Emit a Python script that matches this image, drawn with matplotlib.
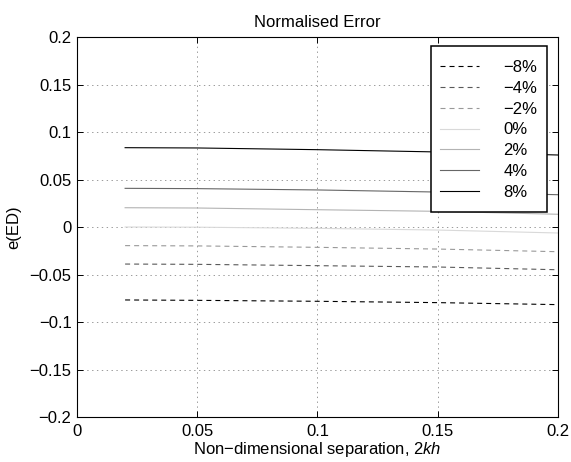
import numpy as np
import matplotlib
matplotlib.use("Agg")
import matplotlib.pyplot as plt
from matplotlib.patches import Rectangle

plt.rcParams["font.family"] = ["Liberation Sans", "DejaVu Sans"]
plt.rcParams["mathtext.fontset"] = "custom"
plt.rcParams["mathtext.it"] = "Liberation Sans:italic"
plt.rcParams["mathtext.rm"] = "Liberation Sans"
plt.rcParams["lines.scale_dashes"] = False

# separation values (2kh) and normalised error per perturbation level
separation = [0.02, 0.05, 0.1, 0.15, 0.2]
labels = ["\u22128%", "\u22124%", "\u22122%", "0%", "2%", "4%", "8%"]
err_m8 = [-0.0768, -0.0772, -0.0782, -0.0796, -0.0817]
err_m4 = [-0.0390, -0.0393, -0.0407, -0.0421, -0.0450]
err_m2 = [-0.0196, -0.0199, -0.0214, -0.0232, -0.0260]
err_0 = [0.0000, -0.0002, -0.0014, -0.0032, -0.0063]
err_2 = [0.0203, 0.0200, 0.0182, 0.0165, 0.0134]
err_4 = [0.0407, 0.0404, 0.0390, 0.0368, 0.0340]
err_8 = [0.0835, 0.0832, 0.0814, 0.0790, 0.0758]

series = [err_m8, err_m4, err_m2, err_0, err_2, err_4, err_8]
colors = ["0.0", "0.35", "0.6", "0.85", "0.7", "0.4", "0.0"]
dashed = [True, True, True, False, False, False, False]

W, H = 571, 462
fig = plt.figure(figsize=(W / 100, H / 100), dpi=100)
ax = fig.add_axes([0.1349, 0.0974, 0.842, 0.8225])

for vals, lab, col, d in zip(series, labels, colors, dashed):
    if d:
        ax.plot(separation, vals, color=col, linewidth=0.8, dashes=(3.6, 2.9), label=lab)
    else:
        ax.plot(separation, vals, color=col, linewidth=0.8, label=lab)

ax.set_xlim(0, 0.2)
ax.set_ylim(-0.2, 0.2)
ax.set_xticks([0, 0.05, 0.1, 0.15, 0.2])
ax.set_xticklabels(["0", "0.05", "0.1", "0.15", "0.2"])
ax.set_yticks(np.round(np.arange(-0.2, 0.21, 0.05), 2))
ax.set_yticklabels(["\u22120.2", "\u22120.15", "\u22120.1", "\u22120.05", "0",
                    "0.05", "0.1", "0.15", "0.2"])
ax.tick_params(direction="in", length=4, width=0.7, labelsize=12, pad=4,
               top=True, right=True)
ax.tick_params(axis="x", pad=5)
for sp in ax.spines.values():
    sp.set_linewidth(0.8)
ax.grid(True, color="0.45", linestyle=(0, (1, 2.5)), linewidth=0.5)

ax.set_title("Normalised Error", fontsize=12, pad=7)
ax.set_xlabel("Non\u2212dimensional separation, 2$\\mathit{kh}$", fontsize=12, labelpad=1)
ax.set_ylabel("e(ED)", fontsize=12, labelpad=6)

# legend box drawn by hand (MATLAB-style padding), entries placed inside it
box = Rectangle((431 / W, 1 - 212 / H), 116 / W, 166 / H, transform=fig.transFigure,
                facecolor="white", edgecolor="black", linewidth=1.1, zorder=4.9)
ax.add_patch(box)
box.set_clip_on(False)
leg = ax.legend(loc="upper left", bbox_to_anchor=(440 / W, 1 - 60 / H),
                bbox_transform=fig.transFigure, borderaxespad=0, borderpad=0,
                fontsize=12, frameon=False,
                handlelength=2.35, handletextpad=1.44, labelspacing=0.35)
leg.set_zorder(5)

fig.savefig("out.png", dpi=100)
